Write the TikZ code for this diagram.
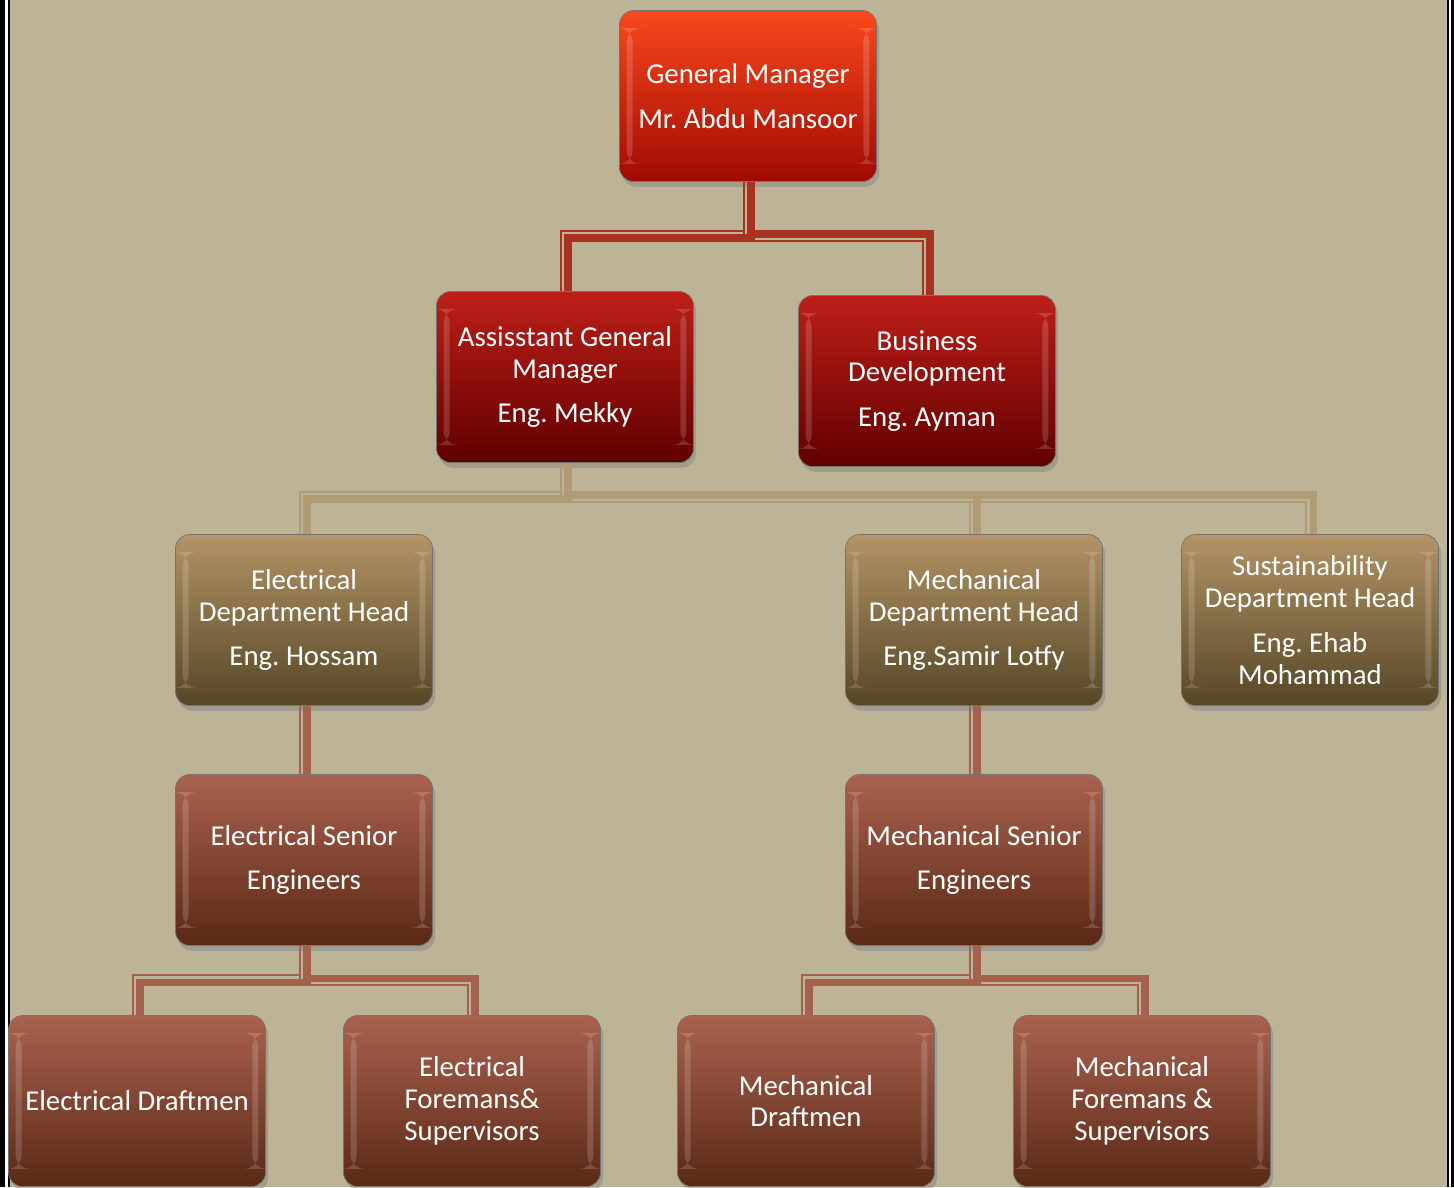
\documentclass[tikz,border=0pt]{standalone}
\usepackage{fontspec}
\setmainfont{Carlito}
\usetikzlibrary{calc,shadows}
\frenchspacing

\definecolor{Paper}{HTML}{BDB396}
\definecolor{GmTop}{HTML}{F9481D}
\definecolor{GmBottom}{HTML}{A00A02}
\definecolor{DeputyTop}{HTML}{BE1F18}
\definecolor{DeputyBottom}{HTML}{600000}
\definecolor{HeadTop}{HTML}{B29466}
\definecolor{HeadBottom}{HTML}{564626}
\definecolor{StaffTop}{HTML}{A9624F}
\definecolor{StaffBottom}{HTML}{5A2816}
\definecolor{LinkRed}{HTML}{A8321F}
\definecolor{LinkTan}{HTML}{B09B76}
\definecolor{LinkRose}{HTML}{A4614F}

\begin{document}
\begin{tikzpicture}
[
x=0.02cm, y=-0.02cm,
Box/.style={rectangle, rounded corners=8pt, draw=black!55, thin,
  minimum width=5.14cm, minimum height=3.42cm, inner sep=2pt,
  align=center, text=white, font=\fontsize{16.4}{18.1}\selectfont,
  drop shadow={shadow xshift=1.5pt, shadow yshift=-3pt, opacity=0.45},
  path picture={
    \fill[white,opacity=0.16] ([xshift=4pt,yshift=-10pt]path picture bounding box.north west)
      rectangle ([xshift=7.5pt,yshift=10pt]path picture bounding box.south west);
    \fill[white,opacity=0.16] ([xshift=-7.5pt,yshift=-10pt]path picture bounding box.north east)
      rectangle ([xshift=-4pt,yshift=10pt]path picture bounding box.south east);}},
Chief/.style={Box, top color=GmTop, bottom color=GmBottom},
Deputy/.style={Box, top color=DeputyTop, bottom color=DeputyBottom},
Head/.style={Box, top color=HeadTop, bottom color=HeadBottom},
Staff/.style={Box, top color=StaffTop, bottom color=StaffBottom},
RedThick/.style={draw=LinkRed, line width=4pt},
RedThin/.style={draw=LinkRed, line width=1.4pt},
TanThick/.style={draw=LinkTan, line width=4pt},
TanThin/.style={draw=LinkTan, line width=1.4pt},
RoseThick/.style={draw=LinkRose, line width=4pt},
RoseThin/.style={draw=LinkRose, line width=1.4pt},
]

\useasboundingbox (0,0) rectangle (1454,1187);
\fill[Paper] (0,0) rectangle (1454,1187);

% frame on the sides
\fill[black] (0,0) rectangle (5,1187);
\fill[white] (5,0) rectangle (7.5,1187);
\fill[black] (7.5,0) rectangle (10,1187);
\fill[black] (1447,0) rectangle (1449,1187);
\fill[white] (1449,0) rectangle (1451,1187);
\fill[black] (1451,0) rectangle (1454,1187);

\coordinate (bus1) at (0,236);
\coordinate (bus2) at (0,497);
\coordinate (bus3) at (0,980);

\node[Chief]  (gm)     at ( 748, 96) {General Manager\\[7.4pt]Mr. Abdu Mansoor};
\node[Deputy] (agm)    at ( 565,377) {Assisstant General\\Manager\\[7.4pt]Eng. Mekky};
\node[Deputy] (bizdev) at ( 927,381) {Business\\Development\\[7.4pt]Eng. Ayman};

\node[Head] (elechead) at ( 304,620) {Electrical\\Department Head\\[7.4pt]Eng. Hossam};
\node[Head] (mechhead) at ( 974,620) {Mechanical\\Department Head\\[7.4pt]Eng.Samir Lotfy};
\node[Head] (sushead)  at (1310,620) {Sustainability\\Department Head\\[7.4pt]Eng. Ehab\\Mohammad};

\node[Staff] (elecsenior) at (304,860) {Electrical Senior\\[7.4pt]Engineers};
\node[Staff] (mechsenior) at (974,860) {Mechanical Senior\\[7.4pt]Engineers};

\node[Staff] (elecdraft)   at ( 137,1101) {Electrical Draftmen};
\node[Staff] (elecforeman) at ( 472,1101) {Electrical\\Foremans\&\\Supervisors};
\node[Staff] (mechdraft)   at ( 806,1101) {Mechanical\\Draftmen};
\node[Staff] (mechforeman) at (1142,1101) {Mechanical\\Foremans \&\\Supervisors};

% general manager
\draw[RedThin]  ($(gm.south)+(-4,0)$) -- ($(gm.south |- bus1)+(-4,-5)$) -| ($(agm.north)+(-4,0)$);
\draw[RedThick] ($(gm.south)+(3,0)$) -- ($(gm.south |- bus1)+(3,2)$) -| ($(agm.north)+(3,0)$);
\draw[RedThin]  ($(gm.south)+(-4,0)$) -- ($(gm.south |- bus1)+(-4,5)$) -| ($(bizdev.north)+(-4,0)$);
\draw[RedThick] ($(gm.south)+(3,0)$) -- ($(gm.south |- bus1)+(3,-2)$) -| ($(bizdev.north)+(3,0)$);

% assistant general manager
\draw[TanThin]  ($(agm.south)+(-4,0)$) -- ($(agm.south |- bus2)+(-4,-5)$) -| ($(elechead.north)+(-4,0)$);
\draw[TanThick] ($(agm.south)+(3,0)$) -- ($(agm.south |- bus2)+(3,2)$) -| ($(elechead.north)+(3,0)$);
\draw[TanThin]  ($(agm.south)+(-4,0)$) -- ($(agm.south |- bus2)+(-4,5)$) -| ($(mechhead.north)+(-4,0)$);
\draw[TanThick] ($(agm.south)+(3,0)$) -- ($(agm.south |- bus2)+(3,-2)$) -| ($(mechhead.north)+(3,0)$);
\draw[TanThin]  ($(agm.south)+(-4,0)$) -- ($(agm.south |- bus2)+(-4,5)$) -| ($(sushead.north)+(-4,0)$);
\draw[TanThick] ($(agm.south)+(3,0)$) -- ($(agm.south |- bus2)+(3,-2)$) -| ($(sushead.north)+(3,0)$);

% department heads
\draw[RoseThin]  ($(elechead.south)+(-4,0)$) -- ($(elecsenior.north)+(-4,0)$);
\draw[RoseThick] ($(elechead.south)+(3,0)$) -- ($(elecsenior.north)+(3,0)$);
\draw[RoseThin]  ($(mechhead.south)+(-4,0)$) -- ($(mechsenior.north)+(-4,0)$);
\draw[RoseThick] ($(mechhead.south)+(3,0)$) -- ($(mechsenior.north)+(3,0)$);

% senior engineers
\draw[RoseThin]  ($(elecsenior.south)+(-4,0)$) -- ($(elecsenior.south |- bus3)+(-4,-5)$) -| ($(elecdraft.north)+(-4,0)$);
\draw[RoseThick] ($(elecsenior.south)+(3,0)$) -- ($(elecsenior.south |- bus3)+(3,2)$) -| ($(elecdraft.north)+(3,0)$);
\draw[RoseThin]  ($(elecsenior.south)+(-4,0)$) -- ($(elecsenior.south |- bus3)+(-4,5)$) -| ($(elecforeman.north)+(-4,0)$);
\draw[RoseThick] ($(elecsenior.south)+(3,0)$) -- ($(elecsenior.south |- bus3)+(3,-2)$) -| ($(elecforeman.north)+(3,0)$);
\draw[RoseThin]  ($(mechsenior.south)+(-4,0)$) -- ($(mechsenior.south |- bus3)+(-4,-5)$) -| ($(mechdraft.north)+(-4,0)$);
\draw[RoseThick] ($(mechsenior.south)+(3,0)$) -- ($(mechsenior.south |- bus3)+(3,2)$) -| ($(mechdraft.north)+(3,0)$);
\draw[RoseThin]  ($(mechsenior.south)+(-4,0)$) -- ($(mechsenior.south |- bus3)+(-4,5)$) -| ($(mechforeman.north)+(-4,0)$);
\draw[RoseThick] ($(mechsenior.south)+(3,0)$) -- ($(mechsenior.south |- bus3)+(3,-2)$) -| ($(mechforeman.north)+(3,0)$);

\end{tikzpicture}
\end{document}
